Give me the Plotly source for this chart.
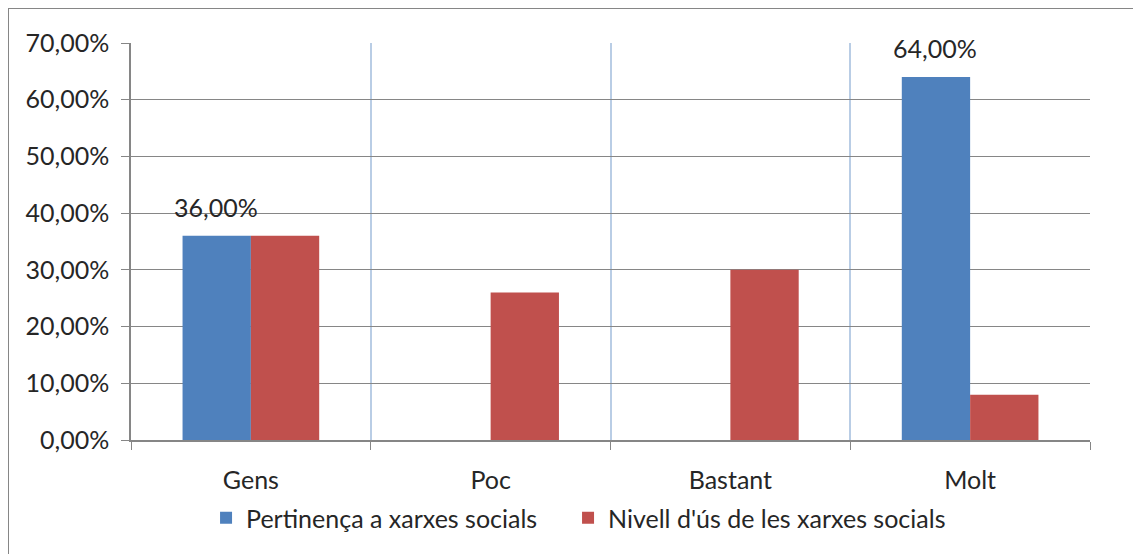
import plotly.graph_objects as go

categories = ["Gens", "Poc", "Bastant", "Molt"]
pertinenca = [0.36, 0.0, 0.0, 0.64]
nivell = [0.36, 0.26, 0.30, 0.08]
series_names = ["Pertinença a xarxes socials", "Nivell d'ús de les xarxes socials"]
y_ticks = [0, 0.1, 0.2, 0.3, 0.4, 0.5, 0.6, 0.7]

BLUE = "#4f81bd"
RED = "#c0504d"
FONT = "Lato, Carlito, Calibri, sans-serif"
TXT = "#262626"
FS = 25

# page body has an 8px margin, so the figure is sized to fit the window
W, H = 1133, 546
L, T, R, B = 123, 35, 51, 114
PW, PH = W - L - R, H - T - B

fig = go.Figure()
fig.add_trace(go.Bar(x=categories, y=pertinenca, name=series_names[0],
                     marker=dict(color=BLUE, line=dict(width=0)),
                     legend="legend"))
fig.add_trace(go.Bar(x=categories, y=nivell, name=series_names[1],
                     marker=dict(color=RED, line=dict(width=0)),
                     legend="legend2"))

def fmt(v):
    return f"{v*100:.2f}%".replace(".", ",")

for c, v in zip(categories, pertinenca):
    if v:
        fig.add_annotation(x=c, y=v, text=fmt(v), showarrow=False,
                           xshift=-35, yshift=12, yanchor="bottom",
                           font=dict(family=FONT, size=FS, color=TXT))

legend_common = dict(orientation="h", xref="container", yref="container",
                     xanchor="left", y=36 / H, yanchor="middle",
                     bgcolor="rgba(0,0,0,0)",
                     font=dict(family=FONT, size=FS, color=TXT),
                     itemwidth=30)

fig.update_layout(
    width=W, height=H,
    margin=dict(l=L, r=R, t=T, b=B, autoexpand=False),
    paper_bgcolor="white", plot_bgcolor="white",
    separators=",.",
    barmode="group", bargap=0.43, bargroupgap=0,
    font=dict(family=FONT, size=FS, color=TXT),
    showlegend=True,
    legend=dict(x=0.1748, **legend_common),
    legend2=dict(x=0.4943, **legend_common),
    xaxis=dict(type="category", tickson="boundaries", showgrid=True,
               gridcolor="#b9cde5", gridwidth=1.5,
               ticks="outside", ticklen=8, tickcolor="#868686",
               showline=True, linecolor="#868686", linewidth=1.5,
               ticklabelstandoff=17, automargin=False,
               tickfont=dict(family=FONT, size=FS, color=TXT)),
    yaxis=dict(range=[0, 0.7], tickvals=y_ticks, tickformat=".2%",
               showgrid=True, gridcolor="#868686", gridwidth=1,
               ticks="outside", ticklen=8, tickcolor="#868686",
               showline=True, linecolor="#868686", linewidth=1.5,
               zeroline=False, ticklabelstandoff=7, automargin=False,
               tickfont=dict(family=FONT, size=FS, color=TXT)),
)

# outer chart border (right and bottom edges fall outside the picture)
fig.add_shape(type="rect", xref="paper", yref="paper",
              x0=-(L - 0) / PW, x1=(W + 20 - L) / PW,
              y0=-(B + 20) / PH, y1=1 + T / PH,
              line=dict(color="#868686", width=2), layer="below")

fig.write_html("out.html")
